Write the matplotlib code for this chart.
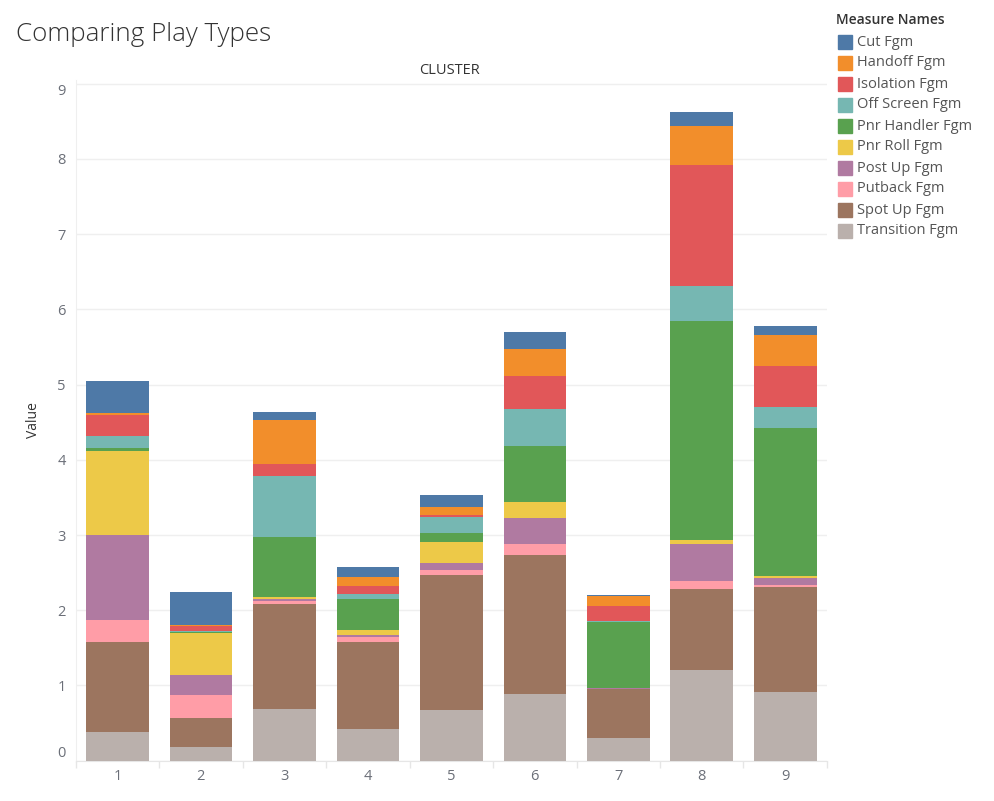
import matplotlib
matplotlib.use('Agg')
import matplotlib.pyplot as plt
from matplotlib.patches import Rectangle
import numpy as np

plt.rcParams['font.family'] = ['Open Sans', 'DejaVu Sans']

clusters = ['1', '2', '3', '4', '5', '6', '7', '8', '9']

measures = ['Cut Fgm', 'Handoff Fgm', 'Isolation Fgm', 'Off Screen Fgm', 'Pnr Handler Fgm',
            'Pnr Roll Fgm', 'Post Up Fgm', 'Putback Fgm', 'Spot Up Fgm', 'Transition Fgm']
colors = ['#4e79a7', '#f28e2b', '#e15759', '#76b7b2', '#59a14f',
          '#edc948', '#b07aa1', '#ff9da7', '#9c755f', '#bab0ac']

# values per cluster
transition = [0.386, 0.182, 0.687, 0.421, 0.674, 0.887, 0.301, 1.206, 0.913]
spot_up = [1.192, 0.385, 1.396, 1.157, 1.795, 1.848, 0.652, 1.077, 1.396]
putback = [0.293, 0.306, 0.040, 0.066, 0.066, 0.146, 0.004, 0.106, 0.027]
post_up = [1.130, 0.266, 0.027, 0.027, 0.094, 0.346, 0.004, 0.492, 0.093]
pnr_roll = [1.117, 0.559, 0.026, 0.067, 0.279, 0.213, 0.010, 0.053, 0.027]
pnr_handler = [0.040, 0.015, 0.798, 0.412, 0.119, 0.744, 0.877, 2.913, 1.968]
off_screen = [0.159, 0.005, 0.811, 0.066, 0.213, 0.492, 0.013, 0.465, 0.279]
isolation = [0.280, 0.070, 0.160, 0.107, 0.027, 0.439, 0.195, 1.609, 0.545]
handoff = [0.026, 0.014, 0.585, 0.119, 0.106, 0.359, 0.133, 0.519, 0.412]
cut = [0.426, 0.447, 0.107, 0.133, 0.160, 0.226, 0.013, 0.186, 0.120]

series = [cut, handoff, isolation, off_screen, pnr_handler,
          pnr_roll, post_up, putback, spot_up, transition]

fig = plt.figure(figsize=(9.95, 8.01), dpi=100)
ax = fig.add_axes([0.0761, 0.0503, 0.755, 0.850])

x = np.arange(len(clusters))
bottom = np.zeros(len(clusters))
# stack from the bottom: Transition first, Cut on top
for name, vals, col in reversed(list(zip(measures, series, colors))):
    ax.bar(x, vals, width=0.75, bottom=bottom, color=col, linewidth=0, zorder=3)
    bottom += np.array(vals)

ax.set_xlim(-0.5, len(clusters) - 0.5)
ax.set_ylim(0, 9.05)
ax.set_yticks(range(10))
ax.grid(axis='y', color='#efefef', linewidth=1, zorder=0)
ax.set_xticks(x)
ax.set_xticklabels(clusters)
ax.set_xticks(np.arange(-0.5, len(clusters) + 0.5, 1), minor=True)
ax.tick_params(axis='x', which='major', length=0, pad=6, labelsize=10.5, labelcolor='#6b6f78')
ax.tick_params(axis='x', which='minor', length=5, color='#e6e6e6', width=1)
ax.tick_params(axis='y', length=0, pad=7, labelsize=10.5, labelcolor='#6b6f78')
for sp in ['top', 'right']:
    ax.spines[sp].set_visible(False)
ax.spines['left'].set_color('#efefef')
ax.spines['bottom'].set_color('#e6e6e6')

ylabels = ax.get_yticklabels()
ylabels[0].set_va('bottom')
ylabels[-1].set_va('top')

ax.set_ylabel('Value', fontsize=10, fontweight='medium', color='#333333', labelpad=12)

fig.text(0.016, 0.957, 'Comparing Play Types', fontsize=18.7, fontweight='light',
         color='#333333', va='center', ha='left')
fig.text(0.452, 0.912, 'CLUSTER', fontsize=10.5, color='#333333', va='center', ha='center')

# legend
fig.text(836 / 995, 1 - 20 / 801, 'Measure Names', fontsize=10, fontweight='semibold',
         color='#333333', va='center', ha='left')
for i, (name, col) in enumerate(zip(measures, colors)):
    yc = 42 + i * 21.0
    fig.patches.append(Rectangle((838 / 995, 1 - (yc + 7) / 801), 14 / 995, 14 / 801,
                                 transform=fig.transFigure, color=col, figure=fig))
    fig.text(857 / 995, 1 - yc / 801, name, fontsize=10.5, color='#555555',
             va='center', ha='left')

fig.savefig('out.png', dpi=100)
